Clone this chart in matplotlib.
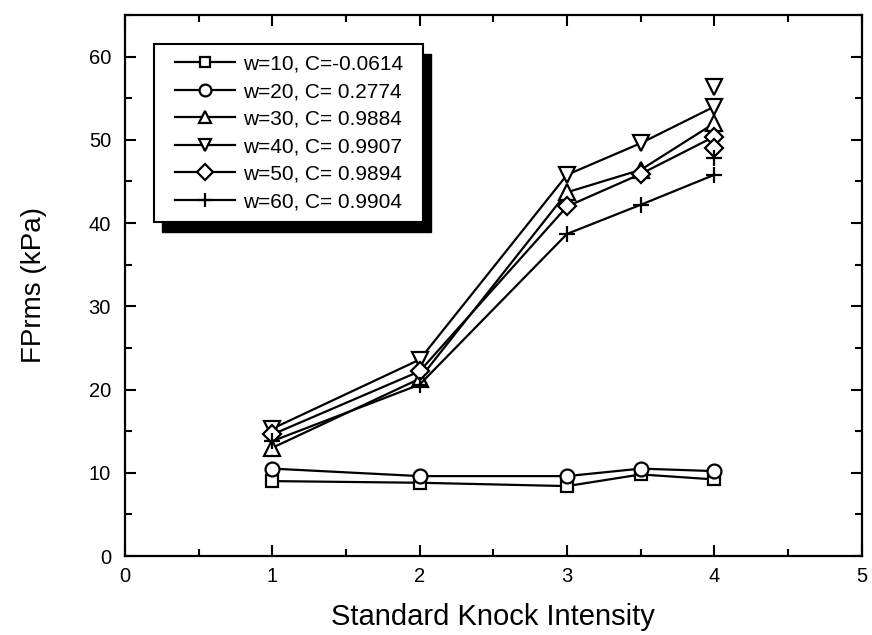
import matplotlib
matplotlib.use("Agg")
import matplotlib.pyplot as plt
from matplotlib.patches import Rectangle
from matplotlib.ticker import MultipleLocator

plt.rcParams['font.family'] = ['Liberation Sans', 'DejaVu Sans']

x = [1, 2, 3, 3.5, 4]
w10 = [9.0, 8.8, 8.4, 9.8, 9.2]
w20 = [10.5, 9.6, 9.6, 10.5, 10.2]
w30 = [13.0, 21.3, 43.7, 46.4, 52.0]
w40 = [15.3, 23.6, 45.8, 49.6, 54.0]
w50 = [14.6, 22.2, 42.0, 45.9, 50.4]
w60 = [13.8, 20.6, 38.7, 42.2, 45.8]
# extra unconnected markers seen at x=4
extra_x = [4]
extra_w40 = [56.3]
extra_w50 = [49.0]
extra_w60 = [47.8]

labels = ["w=10, C=-0.0614", "w=20, C= 0.2774", "w=30, C= 0.9884",
          "w=40, C= 0.9907", "w=50, C= 0.9894", "w=60, C= 0.9904"]
series = [w10, w20, w30, w40, w50, w60]
markers = ['s', 'o', '^', 'v', 'D', '+']
msizes = [9, 10, 11, 11, 9, 12]

fig = plt.figure(figsize=(8.72, 6.35), dpi=100)
ax = fig.add_axes([0.1433, 0.1244, 0.845, 0.852])

handles = []
for ys, m, ms, lab in zip(series, markers, msizes, labels):
    h, = ax.plot(x, ys, color='black', lw=1.6, marker=m, ms=ms,
                 mfc='white', mec='black', mew=1.6, label=lab)
    handles.append(h)
for ys, m, ms in [(extra_w40, 'v', 11), (extra_w50, 'D', 9), (extra_w60, '+', 12)]:
    ax.plot(extra_x, ys, ls='none', marker=m, ms=ms, mfc='white',
            mec='black', mew=1.6)

ax.set_xlim(0, 5)
ax.set_ylim(0, 65)
ax.xaxis.set_major_locator(MultipleLocator(1))
ax.xaxis.set_minor_locator(MultipleLocator(0.5))
ax.yaxis.set_minor_locator(MultipleLocator(5))
ax.set_yticks([0, 10, 20, 30, 40, 50, 60])
ax.tick_params(which='both', direction='in', top=True, right=True,
               width=1.5, labelsize=14.5)
ax.tick_params(which='major', length=8)
ax.tick_params(which='minor', length=5)
ax.tick_params(axis='x', which='major', pad=8)
ax.tick_params(axis='y', which='major', pad=10)
for s in ax.spines.values():
    s.set_linewidth(1.6)

ax.set_xlabel("Standard Knock Intensity", fontsize=21, labelpad=12)
ax.set_ylabel("FPrms (kPa)", fontsize=20, labelpad=30)

leg = ax.legend(handles=handles, loc='upper left', bbox_to_anchor=(0.0536, 0.946),
                borderaxespad=0, frameon=False,
                prop={'family': 'Liberation Sans', 'size': 15},
                handlelength=2.9, handletextpad=0.35,
                labelspacing=0.41, borderpad=0.5, numpoints=1, markerscale=0.85)
leg.set_zorder(7)

fig.canvas.draw()
bb = leg.get_window_extent()
inv = fig.transFigure.inverted()
padx = 10
bx0, bx1 = bb.x0 - padx, bb.x1 + padx
by0, by1 = bb.y0, bb.y1
offx, offy = 8, 10
(sx0, sy0) = inv.transform((bx0 + offx, by0 - offy))
(sx1, sy1) = inv.transform((bx1 + offx, by1 - offy))
shadow = Rectangle((sx0, sy0), sx1 - sx0, sy1 - sy0, transform=fig.transFigure,
                   facecolor='black', edgecolor='black', zorder=5.5, clip_on=False)
ax.add_artist(shadow)
(fx0, fy0) = inv.transform((bx0, by0))
(fx1, fy1) = inv.transform((bx1, by1))
box = Rectangle((fx0, fy0), fx1 - fx0, fy1 - fy0, transform=fig.transFigure,
                facecolor='white', edgecolor='black', lw=1.5, zorder=6, clip_on=False)
ax.add_artist(box)

fig.savefig("out.png", dpi=100)
